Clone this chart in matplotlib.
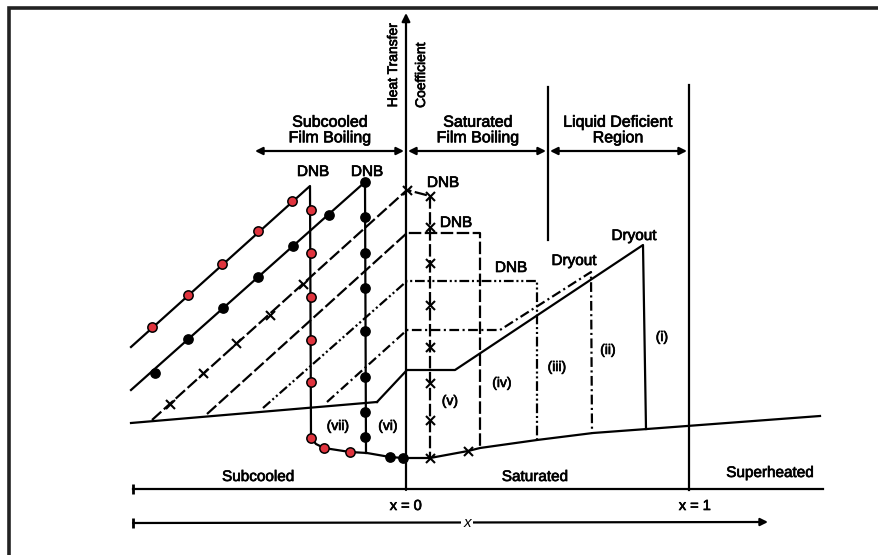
import matplotlib.pyplot as plt
import matplotlib.patheffects as pe

plt.rcParams["font.family"] = ["Liberation Sans", "DejaVu Sans"]
plt.rcParams["lines.scale_dashes"] = False

# ---- schematic geometry (picture units, y grows downward) ----
# single-phase liquid line, shared by all curves on the left
BASE_X = [131, 377]
BASE_Y = [423, 402]

# lower envelope: film boiling after DNB / dryout
ENV_X = [311, 316, 324, 350, 367, 390, 403, 430, 468, 480, 537, 593, 647, 820]
ENV_Y = [438, 444, 448, 452, 453, 457, 458, 458, 451, 448, 440, 433, 429, 416]

# the seven boiling curves: rise to DNB / dryout, then drop to the envelope
CURVES = {
    'i':   ([377, 407, 455, 643, 646], [402, 370, 370, 245, 429]),
    'ii':  ([327, 407, 500, 591, 592], [402, 330, 330, 272, 433]),
    'iii': ([263, 407, 535, 537, 537], [408, 281, 281, 281, 440]),
    'iv':  ([207, 407, 480, 480], [414, 233, 233, 448]),
    'v':   ([152, 407, 430, 430], [420, 190, 196, 458]),
    'vi':  ([131, 365, 366], [390, 182, 453]),
    'vii': ([131, 310, 311], [347, 186, 438]),
}
STYLES = {
    'i': '-', 'ii': (0, (7, 2.5, 1.5, 2.5)), 'iii': (0, (7, 2, 1.5, 2, 1.5, 2)),
    'iv': (0, (9, 2.5)), 'v': (0, (9, 2.5)), 'vi': '-', 'vii': '-',
}

# markers along curves
RED_X = [152, 188, 222, 258, 292, 311, 311, 311, 311, 311, 311, 324, 350]
RED_Y = [327, 295, 264, 231, 201, 210, 253, 297, 340, 382, 438, 448, 452]
BLK_X = [155, 188, 223, 258, 293, 329, 365, 365, 365, 365, 365, 365, 365, 365, 390, 403]
BLK_Y = [373, 339, 308, 277, 246, 215, 182, 217, 253, 288, 331, 377, 412, 437, 457, 458]
CRS_X = [170, 203, 236, 270, 303, 407, 430, 430, 430, 430, 430, 430, 430, 430, 468]
CRS_Y = [404, 373, 343, 315, 284, 190, 196, 227, 263, 305, 347, 383, 420, 458, 451]

PEAK_LABELS = [('DNB', 313, 172), ('DNB', 367, 172), ('DNB', 443, 183),
               ('DNB', 456, 223), ('DNB', 511, 268), ('Dryout', 574, 261),
               ('Dryout', 634, 236)]
CURVE_LABELS = [('(vii)', 338, 426), ('(vi)', 388, 426), ('(v)', 450, 401),
                ('(iv)', 502, 383), ('(iii)', 557, 367), ('(ii)', 608, 350),
                ('(i)', 662, 337)]
REGION_LABELS = [('Subcooled\nFilm Boiling', 330, 130), ('Saturated\nFilm Boiling', 478, 130),
                 ('Liquid Deficient\nRegion', 618, 130)]
REGION_BOUNDS = [253, 406, 548, 689]
STATE_LABELS = [('Subcooled', 258, 477), ('Saturated', 535, 477), ('Superheated', 770, 473)]

fig = plt.figure(figsize=(8.79, 5.55), dpi=100)
ax = fig.add_axes([0, 0, 1, 1])
ax.set_xlim(0, 879)
ax.set_ylim(555, 0)
ax.axis('off')

K = 'black'
LW = 1.6
# scanned print looks a little heavier than regular weight
heavy = [pe.withStroke(linewidth=0.5, foreground=K)]

# frame (only left and top edges are visible)
ax.plot([9, 9, 879], [555, 8, 8], color='#222222', lw=2.6, solid_joinstyle='miter')

# vertical axis and x = 1 line
ax.annotate('', xy=(406, 13), xytext=(406, 490),
            arrowprops=dict(arrowstyle='-|>', color=K, lw=LW, mutation_scale=12,
                            shrinkA=0, shrinkB=0))
ax.plot([689, 689], [85, 490], color=K, lw=LW)
ax.plot([548, 548], [87, 240], color=K, lw=LW)
ax.text(393, 65, 'Heat Transfer', rotation=90, ha='center', va='center', fontsize=10,
        path_effects=heavy)
ax.text(421, 75, 'Coefficient', rotation=90, ha='center', va='center', fontsize=10,
        path_effects=heavy)

# region arrows
for x0, x1 in zip(REGION_BOUNDS[:-1], REGION_BOUNDS[1:]):
    ax.annotate('', xy=(x1 - 2, 151), xytext=(x0 + 2, 151),
                arrowprops=dict(arrowstyle='<|-|>', color=K, lw=LW, mutation_scale=11,
                                shrinkA=0, shrinkB=0))
for txt, x, y in REGION_LABELS:
    ax.text(x, y, txt, ha='center', va='center', fontsize=11.5, linespacing=1.05,
            path_effects=heavy)

# curves
ax.plot(BASE_X, BASE_Y, color=K, lw=LW)
ax.plot(ENV_X, ENV_Y, color=K, lw=LW)
for name, (xs, ys) in CURVES.items():
    ax.plot(xs, ys, color=K, lw=LW, linestyle=STYLES[name])

ax.scatter(RED_X, RED_Y, s=45, color='#e0343e', edgecolors=K, linewidths=1.1, zorder=5)
ax.scatter(BLK_X, BLK_Y, s=45, color=K, zorder=5)
ax.scatter(CRS_X, CRS_Y, s=42, marker='x', color=K, linewidths=1.5, zorder=5)

for txt, x, y in PEAK_LABELS:
    ax.text(x, y, txt, ha='center', va='center', fontsize=11, path_effects=heavy)
for txt, x, y in CURVE_LABELS:
    ax.text(x, y, txt, ha='center', va='center', fontsize=10, path_effects=heavy)

# quality axis
ax.plot([133, 823], [489, 489], color=K, lw=LW)
ax.plot([133], [489], marker='|', ms=7, color=K, mew=2)
for txt, x, y in STATE_LABELS:
    ax.text(x, y, txt, ha='center', va='center', fontsize=11, path_effects=heavy)
ax.text(406, 506, 'x = 0', ha='center', va='center', fontsize=10.5, path_effects=heavy)
ax.text(695, 506, 'x = 1', ha='center', va='center', fontsize=10.5, path_effects=heavy)

ax.annotate('', xy=(768, 522), xytext=(133, 523),
            arrowprops=dict(arrowstyle='-|>', color=K, lw=LW, mutation_scale=11,
                            shrinkA=0, shrinkB=0))
ax.plot([133], [523], marker='|', ms=7, color=K, mew=2)
ax.text(467, 523, 'x', ha='center', va='center', fontsize=11, style='italic',
        bbox=dict(facecolor='white', edgecolor='none', pad=1.5))

fig.savefig('out.png', dpi=100)
